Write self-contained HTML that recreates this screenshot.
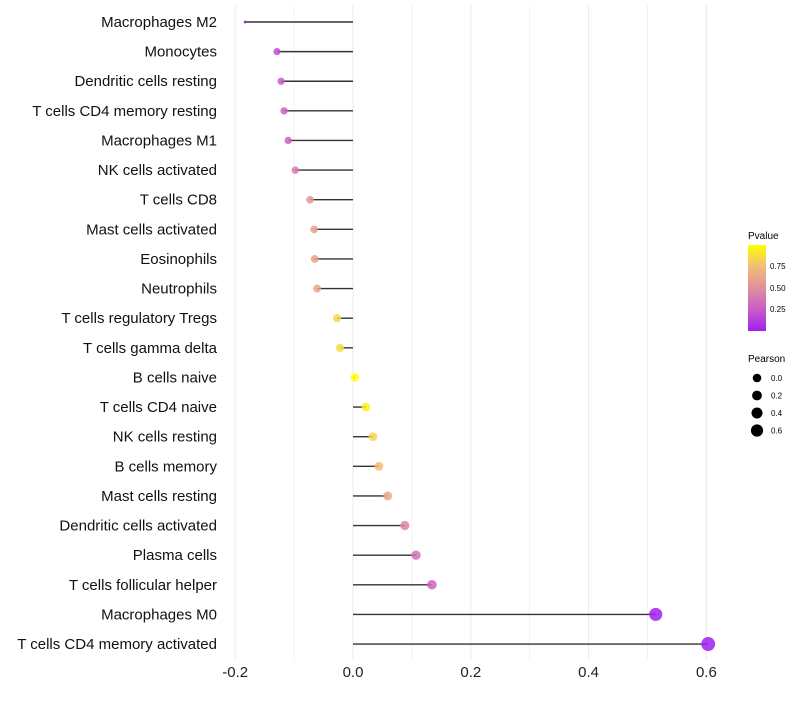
<!DOCTYPE html>
<html><head><meta charset="utf-8"><style>
body{margin:0;background:#fff;font-family:"Liberation Sans",Arial,sans-serif}
</style></head><body>
<svg id="chart" width="800" height="700" xmlns="http://www.w3.org/2000/svg">
<defs><linearGradient id="pg" x1="0" y1="1" x2="0" y2="0">
<stop offset="0" stop-color="#a020f0"/><stop offset="0.25" stop-color="#c95bc8"/><stop offset="0.5" stop-color="#e08f9c"/><stop offset="0.75" stop-color="#f1bd78"/><stop offset="1" stop-color="#ffff00"/>
</linearGradient></defs>
<g id="grid"></g><g id="marks"></g><g id="labels"></g>
<g id="legend">
<text x="748" y="239" font-size="10">Pvalue</text>
<rect x="748" y="245" width="18" height="86" fill="url(#pg)"/>
<text x="770" y="269" font-size="8">0.75</text>
<text x="770" y="291" font-size="8">0.50</text>
<text x="770" y="312" font-size="8">0.25</text>
<text x="748" y="362" font-size="10">Pearson</text>
</g>
</svg>
<script>
const categories=["Macrophages M2","Monocytes","Dendritic cells resting","T cells CD4 memory resting","Macrophages M1","NK cells activated","T cells CD8","Mast cells activated","Eosinophils","Neutrophils","T cells regulatory  Tregs","T cells gamma delta","B cells naive","T cells CD4 naive","NK cells resting","B cells memory","Mast cells resting","Dendritic cells activated","Plasma cells","T cells follicular helper","Macrophages M0","T cells CD4 memory activated"];
const pearson=[-0.183,-0.129,-0.122,-0.117,-0.110,-0.098,-0.073,-0.066,-0.065,-0.061,-0.027,-0.022,0.003,0.022,0.034,0.044,0.059,0.088,0.107,0.134,0.514,0.603];
const pvalues=[0.0,0.2,0.25,0.28,0.3,0.4,0.55,0.6,0.6,0.62,0.85,0.88,1.0,0.95,0.85,0.75,0.65,0.45,0.35,0.3,0.0,0.0];
const xTicks=[-0.2,0,0.2,0.4,0.6];
const sizeLegend=[0.0,0.2,0.4,0.6];
const NS="http://www.w3.org/2000/svg";
const x=v=>353+v*589;
const y=i=>22+i*29.62;
const stops=[[160,32,240],[201,91,200],[224,143,156],[241,189,120],[255,255,0]];
function col(p){const t=Math.max(0,Math.min(1,p))*4,i=Math.min(3,Math.floor(t)),f=t-i;const c=stops[i].map((a,k)=>Math.round(a+(stops[i+1][k]-a)*f));return `rgb(${c})`;}
const r=v=>v>=-0.13?4.2+4.6*v:Math.max(1.5,3.6+(v+0.13)/0.053*2.1);
function mk(tag,attrs,parent){const e=document.createElementNS(NS,tag);for(const k in attrs)e.setAttribute(k,attrs[k]);document.getElementById(parent).appendChild(e);return e;}
for(let v=-0.2;v<=0.61;v+=0.1){const g=mk('line',{x1:x(v),x2:x(v),y1:5,y2:660,stroke:'#ebebeb','stroke-width':Math.abs(Math.round(v*10))%2===0?1:0.6},'grid');

}
xTicks.forEach(t=>{const e=mk('text',{x:x(t),y:677,'font-size':15,'text-anchor':'middle',fill:'#222'},'labels');e.textContent=t===0?'0.0':t.toFixed(1);

});
categories.forEach((c,i)=>{
const t=mk('text',{x:217,y:y(i)+5,'font-size':15,'text-anchor':'end',fill:'#111'},'labels');t.textContent=c;


const s=mk('line',{x1:x(0),x2:x(pearson[i]),y1:y(i),y2:y(i),stroke:'#333','stroke-width':1.4},'marks');


const d=mk('circle',{cx:x(pearson[i]),cy:y(i),r:r(pearson[i]),fill:col(pvalues[i]),'fill-opacity':0.85},'marks');


});
sizeLegend.forEach((v,i)=>{const cy=378+i*17.5;
const c=mk('circle',{cx:757,cy:cy,r:4.3+v*3,fill:'#000'},'legend');


const t=mk('text',{x:771,y:cy+3,'font-size':8},'legend');t.textContent=v.toFixed(1);

});
</script>
</body></html>
